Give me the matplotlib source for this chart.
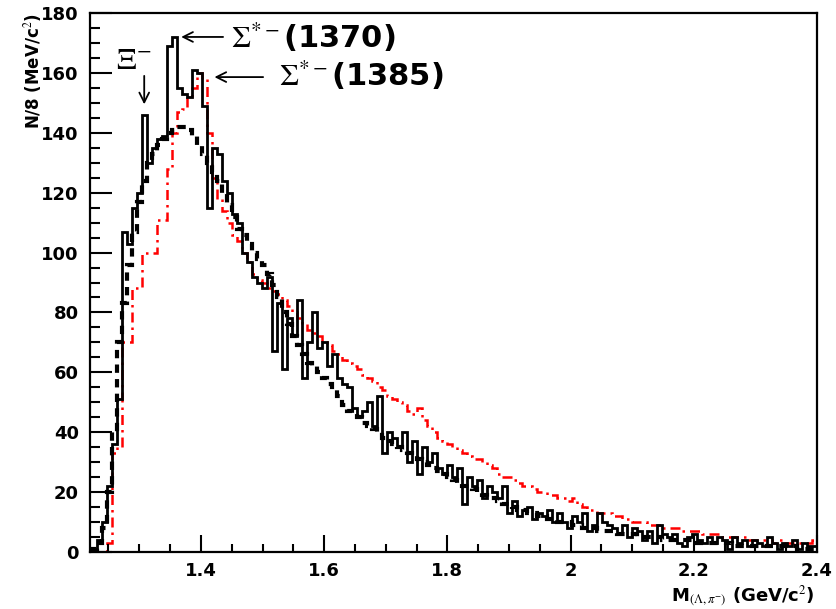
import numpy as np
import matplotlib
matplotlib.use("Agg")
import matplotlib.pyplot as plt
from matplotlib.ticker import MultipleLocator, FormatStrFormatter

plt.rcParams["font.family"] = ["DejaVu Sans"]
plt.rcParams["mathtext.fontset"] = "stix"

# histogram range (GeV/c^2)
m_lo, m_hi = 1.224, 2.4

# data histogram (solid black)
data_counts = [
    1, 4, 10, 22, 36, 51, 107, 103, 115, 120,
    146, 130, 135, 138, 139, 169, 172, 155, 153, 152,
    161, 160, 149, 115, 135, 133, 124, 120, 113, 110,
    100, 97, 92, 90, 88, 92, 67, 83, 61, 78,
    72, 84, 58, 70, 80, 68, 70, 62, 66, 58,
    56, 55, 48, 45, 47, 50, 42, 52, 33, 40,
    38, 35, 40, 30, 37, 26, 35, 30, 33, 28,
    26, 29, 25, 28, 16, 25, 22, 24, 18, 22,
    20, 18, 22, 13, 17, 12, 14, 15, 11, 13,
    12, 14, 10, 13, 10, 8, 12, 10, 13, 7,
    9, 13, 10, 9, 8, 6, 9, 5, 8, 7,
    4, 7, 3, 9, 6, 5, 6, 3, 2, 5,
    6, 4, 3, 5, 3, 5, 4, 1, 5, 3,
    4, 2, 4, 3, 2, 5, 3, 1, 3, 2,
    4, 1, 3, 2, 2,
]

# smooth background (dashed black)
bkg_counts = [
    1, 3, 8, 20, 40, 70, 83, 96, 107, 117,
    124, 130, 133, 136, 138, 140, 141, 142, 142, 141,
    139, 136, 133, 130, 127, 124, 120, 116, 112, 108,
    106, 103, 100, 98, 96, 93, 89, 85, 80, 76,
    72, 69, 66, 63, 62, 60, 58, 56, 54, 52,
    49, 47, 46, 45, 43, 42, 41, 40, 38, 37,
    36, 35, 34, 33, 32, 31, 30, 29, 28, 27,
    26, 25, 24, 23, 22, 22, 21, 20, 19, 18,
    18, 17, 16, 16, 15, 14, 14, 13, 13, 12,
    12, 11, 11, 10, 10, 10, 9, 9, 8, 8,
    8, 7, 7, 7, 7, 6, 6, 6, 6, 5,
    5, 5, 5, 5, 4, 4, 4, 4, 4, 4,
    3, 3, 3, 3, 3, 3, 3, 3, 2, 2,
    2, 2, 2, 2, 2, 2, 2, 2, 2, 2,
    2, 1, 1, 1, 1,
]

# MC histogram (red dash-dot)
mc_counts = [
    0, 0, 0, 3, 33, 35, 70, 70, 88, 88,
    100, 100, 100, 111, 111, 128, 140, 147, 148, 152,
    155, 160, 158, 140, 125, 118, 114, 110, 106, 104,
    100, 97, 93, 91, 90, 88, 87, 86, 84, 82,
    80, 78, 76, 74, 73, 72, 70, 69, 67, 66,
    64, 63, 62, 61, 59, 58, 57, 55, 54, 52,
    51, 50, 49, 47, 46, 48, 44, 42, 40, 38,
    37, 36, 35, 34, 33, 32, 31, 31, 30, 29,
    28, 26, 25, 25, 24, 23, 22, 22, 21, 20,
    20, 19, 19, 18, 18, 17, 18, 16, 15, 14,
    14, 13, 13, 13, 12, 12, 11, 11, 10, 10,
    10, 9, 9, 9, 8, 8, 8, 8, 7, 7,
    7, 7, 6, 6, 6, 6, 5, 5, 5, 5,
    5, 4, 4, 4, 4, 4, 3, 4, 3, 3,
    3, 3, 3, 3, 4,
]

edges = np.linspace(m_lo, m_hi, len(data_counts) + 1)

fig = plt.figure(figsize=(8.37, 6.09), dpi=100)
ax = fig.add_axes([90 / 837, 1 - 552 / 609, 727 / 837, 539 / 609])

ax.stairs(mc_counts, edges, color="red", lw=1.8, linestyle=(0, (4, 2, 1, 2)))
ax.stairs(data_counts, edges, color="black", lw=2.0)
ax.stairs(bkg_counts, edges, color="black", lw=3.0, linestyle=(0, (2, 1.5)))

ax.set_xlim(1.22, 2.4)
ax.set_ylim(0, 180)
ax.xaxis.set_major_locator(MultipleLocator(0.2))
ax.xaxis.set_minor_locator(MultipleLocator(0.05))
ax.yaxis.set_major_locator(MultipleLocator(20))
ax.yaxis.set_minor_locator(MultipleLocator(5))
ax.xaxis.set_major_formatter(FormatStrFormatter("%g"))

ax.tick_params(axis="both", which="both", direction="in", width=1.5,
               top=False, right=False)
ax.tick_params(axis="y", which="major", length=16, pad=8)
ax.tick_params(axis="y", which="minor", length=7)
ax.tick_params(axis="x", which="major", length=12, pad=7)
ax.tick_params(axis="x", which="minor", length=6)
for lab in ax.get_xticklabels() + ax.get_yticklabels():
    lab.set_fontsize(13)
    lab.set_fontweight("bold")
for side in ["left", "bottom", "top", "right"]:
    ax.spines[side].set_linewidth(1.6)

# axis titles placed ROOT-style (right / top aligned)
fig.text(815 / 837, 1 - 597 / 609, r"M$_{(\Lambda,\pi^{-})}$ (GeV/c$^{2}$)",
         ha="right", va="center", fontsize=13, fontweight="bold")
fig.text(33 / 837, 1 - 13 / 609, r"N/8 (MeV/c$^{2}$)", rotation=90,
         ha="center", va="top", fontsize=12, fontweight="bold")

arrow = dict(arrowstyle="->,head_length=0.7,head_width=0.35", lw=1.3,
             color="black", shrinkA=0, shrinkB=0)
ax.annotate("", xy=(1.308, 149.5), xytext=(1.308, 159), arrowprops=arrow)
ax.text(1.262, 164, r"$\Xi^{-}$", fontsize=22, ha="left", va="center")

ax.annotate("", xy=(1.368, 172), xytext=(1.436, 172), arrowprops=arrow)
ax.text(1.449, 172, r"$\Sigma^{*-}$(1370)", fontsize=22, fontweight="bold",
        ha="left", va="center")

ax.annotate("", xy=(1.422, 158.6), xytext=(1.501, 158.6), arrowprops=arrow)
ax.text(1.526, 159, r"$\Sigma^{*-}$(1385)", fontsize=22, fontweight="bold",
        ha="left", va="center")

fig.savefig("out.png", dpi=100)
